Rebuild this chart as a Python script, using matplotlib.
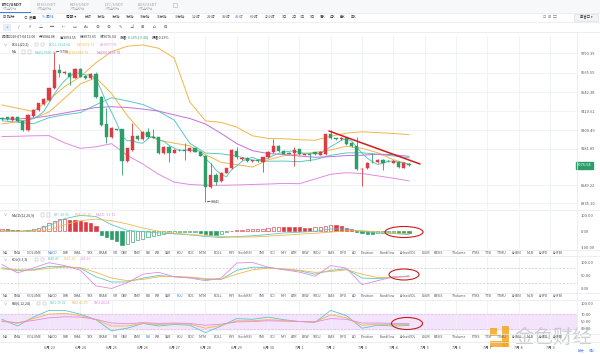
import matplotlib
matplotlib.use('Agg')
import matplotlib.pyplot as plt
from matplotlib.patches import Rectangle, Ellipse
import numpy as np

plt.rcParams['font.family'] = ['Noto Sans CJK SC', 'DejaVu Sans']

# ---------------- data (4h candles, 2020-06-21 12:00 .. 2020-07-04 12:00) ----------------
opens = [9376, 9383, 9366, 9383, 9359, 9302, 9391, 9429, 9465, 9493,
         9567, 9684, 9663, 9667, 9635, 9690, 9648, 9631, 9656, 9514,
         9340, 9255, 9306, 9306, 9107, 9175, 9264, 9245, 9289, 9260,
         9255, 9154, 9196, 9158, 9175, 9175, 9168, 9185, 9164, 9139,
         8941, 9016, 8977, 9030, 9058, 9171, 9117, 9126, 9105, 9107,
         9100, 9128, 9160, 9200, 9168, 9154, 9154, 9179, 9145, 9147,
         9160, 9143, 9147, 9274, 9249, 9243, 9249, 9221, 9202, 9052,
         9058, 9100, 9096, 9111, 9105, 9094, 9100, 9062, 9084.88]
highs = [9383, 9387, 9392, 9387, 9362, 9402, 9434, 9476, 9505, 9572,
         9798, 9722, 9675, 9672, 9694, 9695, 9652, 9664, 9673, 9518,
         9440, 9318, 9310, 9310, 9190, 9344, 9268, 9296, 9313, 9306,
         9260, 9200, 9200, 9180, 9180, 9217, 9190, 9190, 9168, 9143,
         9090, 9030, 9035, 9062, 9180, 9196, 9130, 9130, 9112, 9110,
         9132, 9165, 9245, 9205, 9172, 9160, 9196, 9182, 9152, 9150,
         9164, 9168, 9278, 9302, 9254, 9256, 9253, 9225, 9260, 9060,
         9098, 9153, 9115, 9115, 9110, 9109, 9104, 9098, 9093.55]
lows = [9366, 9366, 9362, 9355, 9296, 9296, 9387, 9425, 9460, 9488,
        9560, 9642, 9655, 9589, 9630, 9638, 9626, 9627, 9508, 9328,
        9217, 9250, 9300, 9016, 9100, 9170, 9240, 9240, 9252, 9248,
        9148, 9148, 9100, 9154, 9170, 9111, 9162, 9160, 9135, 8841,
        8935, 8952, 8970, 9025, 9054, 9120, 9112, 9100, 9100, 9100,
        9037, 9124, 9155, 9162, 9146, 9148, 9073, 9142, 9140, 9107,
        9143, 9140, 9143, 9245, 9236, 9240, 9208, 9196, 9045, 8948,
        9054, 9094, 9092, 9047, 9098, 9090, 9060, 9058, 9073.65]
closes = [9372, 9372, 9387, 9359, 9302, 9398, 9429, 9472, 9499, 9567,
          9684, 9663, 9669, 9637, 9688, 9642, 9631, 9659, 9514, 9334,
          9255, 9313, 9304, 9107, 9185, 9264, 9245, 9291, 9257, 9253,
          9154, 9196, 9158, 9175, 9173, 9168, 9185, 9164, 9139, 8941,
          9016, 8973, 9030, 9058, 9175, 9128, 9126, 9105, 9107, 9105,
          9128, 9160, 9200, 9168, 9151, 9152, 9175, 9147, 9147, 9145,
          9147, 9164, 9274, 9249, 9243, 9249, 9213, 9202, 9052, 9054,
          9094, 9098, 9111, 9094, 9103, 9105, 9064, 9094, 9076.54]

# line values read every 3 candles
s_idx = [0, 3, 6, 9, 12, 15, 18, 21, 24, 27, 30, 33, 36, 39, 42, 45, 48, 51, 54, 57,
         60, 63, 66, 69, 72, 75, 78]
boll_ub = [9461, 9440, 9420, 9493, 9578, 9640, 9730, 9800, 9835, 9843, 9822, 9760, 9480,
           9360, 9350, 9320, 9265, 9248, 9246, 9240, 9236, 9262, 9282, 9290, 9285, 9280, 9272]
boll_lb = [9260, 9262, 9265, 9266, 9220, 9185, 9195, 9215, 9140, 9085, 9020, 8970, 8955,
           8950, 8950, 8952, 8955, 8958, 8962, 8960, 8990, 9020, 9030, 9025, 9010, 8995, 8978]
boll_mid = [9360, 9351, 9342, 9380, 9399, 9412, 9462, 9507, 9487, 9464, 9421, 9365, 9217,
            9155, 9150, 9136, 9110, 9103, 9104, 9100, 9113, 9141, 9156, 9157, 9147, 9137, 9125]
ma10 = [9340, 9355, 9375, 9416, 9504, 9595, 9635, 9534, 9394, 9281, 9237, 9218, 9201,
        9145, 9096, 9081, 9066, 9112, 9138, 9149, 9159, 9175, 9198, 9185, 9157, 9113, 9084]
ma30 = [9372, 9372, 9378, 9392, 9410, 9428, 9445, 9450, 9445, 9435, 9422, 9398, 9375,
        9340, 9280, 9215, 9170, 9152, 9146, 9136, 9128, 9132, 9139, 9141, 9148, 9145, 9134]
ma5 = [9375, 9372, 9370, 9365, 9358, 9364, 9375, 9392, 9420, 9473,
       9530, 9577, 9616, 9644, 9668, 9660, 9653, 9651, 9627, 9556,
       9479, 9415, 9344, 9263, 9233, 9235, 9221, 9218, 9248, 9262,
       9240, 9230, 9204, 9187, 9171, 9174, 9172, 9173, 9166, 9119,
       9089, 9047, 9020, 9004, 9050, 9073, 9103, 9118, 9128, 9114,
       9114, 9121, 9140, 9152, 9161, 9166, 9169, 9159, 9154, 9153,
       9152, 9150, 9175, 9196, 9215, 9236, 9246, 9231, 9192, 9154,
       9123, 9100, 9082, 9090, 9102, 9104, 9096, 9095, 9081]

macd_hist = [14, 12, 10, 6, 3, 6, 12, 20, 32, 48,
             66, 75, 76, 72, 70, 64, 58, 52, 32, -20,
             -35, -50, -62, -87, -78, -66, -55, -45, -36, -28,
             -20, -14, -10, -8, -6, -5, -4, -3, -8, -14,
             -20, -22, -14, -5, 4, 8, 10, 12, 14, 15,
             16, 20, 25, 28, 27, 26, 25, 24, 22, 21,
             24, 28, 34, 38, 36, 30, 22, 14, -4, -10,
             -14, -16, -12, -9, -7, -5, -8, -10, -11.72]
macd_dif = [7, 1, 6, 34, 78, 97, 91, 40, 6, -2.5, -10, -16, -22, -32, -39, -32, -28, -20,
            -10.5, -6, 0, 14, 14, -1, -10, -13.5, -20.96]
macd_dea = [0, -2, 0, 10, 40, 65, 75, 65, 45, 20, 0, -12, -20, -25, -32, -36, -35, -30,
            -24, -18, -12, -5, 3, 4, -4, -11, -15.10]

kdj_k = [80, 68, 72, 85, 85, 78, 45, 25, 25, 40, 50, 45, 42, 35, 35, 70, 82, 80, 74, 68,
         55, 70, 75, 40, 38, 42, 48.47]
kdj_d = [75, 72, 70, 78, 82, 80, 62, 40, 30, 35, 45, 46, 44, 38, 36, 55, 72, 78, 75, 70,
         62, 65, 72, 55, 42, 43, 47.13]
kdj_j = [92, 60, 79, 99, 88, 70, 10, 0, 22, 55, 62, 45, 40, 30, 40, 98, 100, 82, 72, 63,
         47, 88, 78, 15, 30, 45, 45.16]

rsi1 = [56, 38, 62, 80, 80, 70, 55, 25, 32, 45, 38, 42, 40, 20, 38, 58, 56, 62, 55, 50,
        48, 80, 66, 32, 40, 38, 39.32]
rsi2 = [52, 45, 58, 70, 72, 66, 55, 38, 38, 45, 42, 44, 43, 32, 40, 52, 52, 55, 53, 50,
        49, 68, 60, 40, 43, 42, 41.79]
rsi3 = [50, 47, 53, 60, 63, 62, 56, 46, 44, 47, 45, 46, 45, 40, 43, 49, 50, 52, 51, 50,
        49, 58, 56, 46, 46, 45, 44.14]

price_ticks = [9790.39, 9665.55, 9542.38, 9420.62, 9300.49, 9181.89, 8949.22, 8835.10]
last_price = 9076.54
day_labels = ['6月 23', '6月 24', '6月 25', '6月 26', '6月 27', '6月 28', '6月 29', '6月 30',
              '7月 1', '7月 2', '7月 3', '7月 4', '7月 5', '7月 6', '7月 7', '7月 8', '7月 9']
indicators = ['MA', 'EMA', 'VOLUME', 'MACD', 'DMI', 'DMA', 'TRX', 'BRAR', 'VR', 'OBV', 'EMV',
              'RSI', 'WR', 'SAR', 'KDJ', 'ROC', 'MTM', 'BOLL', 'PSY', 'StochRSI', 'SMI', 'CCI',
              'MFI', 'ATR', 'BBW', 'SKDJ', 'BIAS', 'DPO', 'AO', 'Position', 'Fundflow',
              'AHeatVOL', 'LSUR', 'BASIS', 'TVolume', 'FTBS', 'TTSI', 'TTMU', 'AHBSI', 'MLR',
              'AHPD', 'AHFBI']
periods = ['分时', '1分钟', '3分钟', '5分钟', '10分钟', '15分钟', '30分钟', '1小时', '2小时', '3小时',
           '4小时', '6小时', '12小时', '1日', '2日', '3日', '5日', '周K', '月K', '季K', '年K']
pairs = ['BTC/USDT', 'ETH/USDT', 'BCH/USDT', 'LTC/USDT', 'EOS/USDT']

# ---------------- styling ----------------
W, H = 600, 355
RED = '#de3b45'
GREEN = '#2e9d6a'
TEAL = '#5cc7c2'
ORANGE = '#f3b548'
PINK = '#e08be0'
PURPLE = '#c46fdc'
GRID = '#eef1f4'
TXT = '#555a60'
BLUE = '#3d7be0'
FS = 2.9
SM = 2.5

fig = plt.figure(figsize=(W / 100, H / 100), dpi=100)
fig.patch.set_facecolor('white')


def add_ax(x0, y0, x1, y1):
    a = fig.add_axes([x0 / W, 1 - y1 / H, (x1 - x0) / W, (y1 - y0) / H])
    for s in a.spines.values():
        s.set_visible(False)
    a.set_xticks([])
    a.set_yticks([])
    a.set_facecolor('none')
    return a


def right_labels(a, ticks, labels):
    r = a.twinx()
    r.set_ylim(a.get_ylim())
    for s in r.spines.values():
        s.set_visible(False)
    r.set_yticks(ticks)
    r.set_yticklabels(labels, fontsize=FS, color=TXT)
    r.tick_params(axis='y', length=0, pad=2.5)
    r.set_xticks([])
    return r


n = len(closes)
xi = np.arange(n)
XL = (-0.383, 110.2)
day_idx = list(range(3, 110, 6))

# ---------------- main price panel ----------------
ax = add_ax(0, 36, 577, 209)
ax.set_xlim(*XL)
ax.set_ylim(8799, 9900)
for d in day_idx:
    ax.axvline(d, color=GRID, lw=0.6, zorder=0)
for p in price_ticks:
    ax.axhline(p, color=GRID, lw=0.6, zorder=0)

for i in range(n):
    o, h, l, c = opens[i], highs[i], lows[i], closes[i]
    col = RED if c >= o else GREEN
    ax.vlines(i, l, h, color=col, lw=0.6, zorder=3)
    ax.bar(i, max(abs(c - o), 3), bottom=min(o, c), width=0.62, color=col,
           edgecolor=col, lw=0.3, zorder=4)

ax.plot(s_idx, boll_ub, color=ORANGE, lw=0.7, zorder=2)
ax.plot(s_idx, boll_lb, color=PINK, lw=0.7, zorder=2)
ax.plot(s_idx, boll_mid, color=TEAL, lw=0.7, zorder=2)
ax.plot(s_idx, ma10, color=ORANGE, lw=0.7, zorder=2)
ax.plot(s_idx, ma30, color=PURPLE, lw=0.7, zorder=2)
ax.plot(xi, ma5, color=TEAL, lw=0.7, zorder=2)

imax = int(np.argmax(highs))
imin = int(np.argmin(lows))
ax.annotate('← %d' % highs[imax], (imax, highs[imax]), xytext=(1.0, 0), textcoords='offset points',
            fontsize=SM, color='#333', va='center', ha='left')
ax.annotate('← %d' % lows[imin], (imin, lows[imin]), xytext=(1.0, 0), textcoords='offset points',
            fontsize=SM, color='#333', va='center', ha='left')

axr = right_labels(ax, price_ticks, ['%.2f' % p for p in price_ticks])
axr.text(1.0, last_price, '%.2f' % last_price, transform=axr.get_yaxis_transform(),
         fontsize=FS, color='white', va='center', ha='left',
         bbox=dict(boxstyle='square,pad=0.3', fc=GREEN, ec=GREEN))

# ---------------- MACD ----------------
am = add_ax(0, 211, 577, 249)
am.set_xlim(*XL)
am.set_ylim(-109, 124.6)
for d in day_idx:
    am.axvline(d, color=GRID, lw=0.6, zorder=0)
for i in range(n):
    v = macd_hist[i]
    prev = macd_hist[i - 1] if i > 0 else v
    col = RED if v >= 0 else GREEN
    hollow = (v >= prev)
    am.bar(i, v, width=0.62, bottom=0, facecolor='white' if hollow else col,
           edgecolor=col, lw=0.45, zorder=3)
am.plot(s_idx, macd_dif, color=TEAL, lw=0.6, zorder=4)
am.plot(s_idx, macd_dea, color=ORANGE, lw=0.6, zorder=4)
right_labels(am, [100, 0, -100], ['100.00', '0.00', '-100.00'])

# ---------------- KDJ ----------------
ak = add_ax(0, 257, 577, 292)
ak.set_xlim(*XL)
ak.set_ylim(-13.5, 121)
for d in day_idx:
    ak.axvline(d, color=GRID, lw=0.6, zorder=0)
for lv in (80, 20):
    ak.axhline(lv, color='#c8c8c8', lw=0.5, ls=(0, (3, 2)), zorder=1)
ak.plot(s_idx, kdj_k, color=TEAL, lw=0.6, zorder=3)
ak.plot(s_idx, kdj_d, color=ORANGE, lw=0.6, zorder=3)
ak.plot(s_idx, kdj_j, color=PINK, lw=0.6, zorder=3)
right_labels(ak, [100, 50, 0], ['100.00', '50.00', '0.00'])

# ---------------- RSI ----------------
ar = add_ax(0, 300, 577, 333)
ar.set_xlim(*XL)
ar.set_ylim(19.1, 108.1)
ar.axhspan(30, 70, color='#f4e4fb', zorder=0)
for lv in (70, 30):
    ar.axhline(lv, color='#d8b8e6', lw=0.5, ls=(0, (3, 2)), zorder=1)
for d in day_idx:
    ar.axvline(d, color=GRID, lw=0.6, zorder=0.5)
ar.plot(s_idx, rsi1, color=TEAL, lw=0.6, zorder=3)
ar.plot(s_idx, rsi2, color=ORANGE, lw=0.6, zorder=3)
ar.plot(s_idx, rsi3, color=PINK, lw=0.6, zorder=3)
right_labels(ar, [100, 70, 50, 30], ['100.00', '70.00', '50.00', '30.00'])

# ---------------- overlay (texts, separators, annotations) ----------------
ov = fig.add_axes([0, 0, 1, 1], zorder=10)
ov.set_xlim(0, W)
ov.set_ylim(H, 0)
ov.axis('off')
ov.patch.set_alpha(0)


def T(x, y, s, fs=FS, c=TXT, **kw):
    ov.text(x, y, s, fontsize=fs, color=c, va='center', **kw)


def boxes(x, y):
    for dx in (0, 6):
        ov.add_patch(Rectangle((x + dx, y - 1.7), 3.4, 3.4, fc='none', ec='#b5b8bc', lw=0.35))


# watermark (drawn first, under everything else in the overlay)
ov.add_patch(Rectangle((490, 328), 7, 8, fc='#f5a623', ec='none', alpha=0.85, zorder=0))
ov.add_patch(Rectangle((502, 326), 6.5, 21, fc='#f5a623', ec='none', alpha=0.85, zorder=0))
ov.add_patch(Rectangle((490, 341), 18, 6, fc='#f5a623', ec='none', alpha=0.85, zorder=0))
ov.text(553, 337.5, '金色财经', fontsize=14, color='#b9bcc0', alpha=0.7, ha='center', va='center',
        zorder=0)

# separators
for y in (12.5, 22, 32, 210, 249.5, 256, 292.5, 299.5, 333.5, 341.5):
    ov.plot([0, W], [y, y], color='#e6e8eb', lw=0.5)
ov.plot([577, 577], [32, 342], color='#e6e8eb', lw=0.5)

# tab bar
ov.add_patch(Rectangle((30, 0), 570, 12.5, fc='#f7f8fa', ec='none'))
ov.plot([0, 30], [12, 12], color=BLUE, lw=0.7)
for k, (s, x) in enumerate(zip(pairs, [2, 37, 70, 105, 138])):
    T(x, 4.3, s, fs=2.9, c='#222' if k == 0 else '#9aa0a6', fontweight='bold' if k == 0 else 'normal')
    T(x, 8.8, '火币全球站', fs=2.2, c='#a8adb3')
ov.add_patch(Rectangle((173, 2.5), 4, 4, fc='none', ec='#b0b4b9', lw=0.4))

# toolbar row
T(3, 17, '⊟ 指标', fs=2.7, c='#333')
T(24, 17, '⊙ 设置', fs=2.7, c='#333')
T(42, 17, '✎ 画线', fs=2.7, c=BLUE)
T(66, 17, '周期 ▾', fs=2.7, c='#333')
px_ = [88.5, 101, 116, 130, 145, 162, 180, 196, 211, 226, 239, 254, 270, 284.5, 294.5,
       303, 312.5, 322.5, 332.5, 342.5, 353.5]
for s, x in zip(periods, px_):
    T(x, 17, s, fs=2.4, c=BLUE if s == '4小时' else '#444', ha='center')
T(543, 17, '⊡  ⊞  ▢', fs=2.8, c='#888')
ov.add_patch(Rectangle((574, 13.5), 24, 7, fc='#f2f3f5', ec='#d8dadd', lw=0.4))
T(586, 17, '单窗口 ▾', fs=2.4, c='#333', ha='center')

# drawing tools row
ov.add_patch(Rectangle((3, 23.5), 8, 7, fc='#e3edfb', ec='none'))
tools = ['+', '/', '∥', '△', '═', '⊢', '▭', 'Aa', '⊘', '⊘', '✎', '⊿', '⊞', '⌂', '⊟']
for k, s in enumerate(tools):
    T(7 + k * 11.3, 27, s, fs=3.0, c=BLUE if k == 0 else '#555', ha='center')

# info row
IF = 2.45
T(2, 37.5, '时间2020-07-04 12:00', fs=IF, c='#333')
T(39, 37.5, '开:9084.88', fs=IF, c='#333')
T(60, 37.5, '高:9093.55', fs=IF, c='#333')
T(80, 37.5, '低:9073.65', fs=IF, c='#333')
T(100, 37.5, '收:9076.54', fs=IF, c='#333')
T(120, 37.5, '涨幅:', fs=IF, c='#333')
T(128, 37.5, '-0.10%(-9.34)', fs=IF, c=GREEN)
T(152, 37.5, '振幅:0.23%', fs=IF, c='#333')

# legends
LF = 2.45
T(4, 44.5, '∨', fs=LF, c='#666')
T(12, 44.5, 'BOLL(20,2)', fs=LF, c='#333')
boxes(35, 44.5)
T(49, 44.5, 'BOLL:9124.84', fs=LF, c=TEAL)
T(77, 44.5, 'UB:9271.73', fs=LF, c=ORANGE)
T(100, 44.5, 'LB:8977.95', fs=LF, c=PINK)
T(12, 52, 'MA', fs=LF, c='#333')
boxes(22, 52)
T(35, 52, 'MA(5):9080.69', fs=LF, c=TEAL)
T(65, 52, 'MA(10):9083.76', fs=LF, c=ORANGE)
T(97, 52, 'MA(30):9133.78', fs=LF, c=PURPLE)

T(4, 215, '∨', fs=LF, c='#666')
T(12, 215, 'MACD(12,26,9)', fs=LF, c='#333')
boxes(41, 215)
T(54, 215, 'DIF:-20.96', fs=LF, c=TEAL)
T(75, 215, 'DEA:-15.10', fs=LF, c=ORANGE)
T(96, 215, 'MACD:-11.72', fs=LF, c=PINK)

T(4, 259.5, '∨', fs=LF, c='#666')
T(12, 259.5, 'KDJ(9,3,3)', fs=LF, c='#333')
boxes(35, 259.5)
T(48, 259.5, 'K:48.47', fs=LF, c=TEAL)
T(64, 259.5, 'D:47.13', fs=LF, c=ORANGE)
T(80, 259.5, 'J:45.16', fs=LF, c=PINK)

T(4, 303.5, '∨', fs=LF, c='#666')
T(12, 303.5, 'RSI(6,12,24)', fs=LF, c='#333')
boxes(37, 303.5)
T(50, 303.5, 'RSI1:39.32', fs=LF, c=TEAL)
T(72, 303.5, 'RSI2:41.79', fs=LF, c=ORANGE)
T(94, 303.5, 'RSI3:44.14', fs=LF, c=PINK)

# indicator tab rows
ind_x = [5.5, 17.5, 34, 52, 65.5, 77.5, 90, 103, 115, 124.5, 137, 148.5, 157.5, 168.5, 180,
         191.5, 203, 217.5, 231.5, 245.5, 261.5, 273, 283.5, 294, 305.5, 317.5, 331, 343,
         354, 367.5, 387, 408.5, 425.5, 438, 459, 476, 489, 502, 517, 530, 543.5, 558]
for yrow, hl in ((253, 'MACD'), (296.3, 'KDJ'), (337.5, 'RSI')):
    for s, x in zip(indicators, ind_x):
        T(x, yrow, s, fs=SM, c=BLUE if s == hl else '#555', ha='center')

# date labels
for k, s in enumerate(day_labels):
    x = 2.0 + 5.2177 * (9 + 6 * k)
    T(x, 347.5, s, fs=2.7, c='#555', ha='center')
T(581, 350.5, '放大', fs=2.4, c=BLUE, ha='center')
T(592, 350.5, '缩小', fs=2.4, c=BLUE, ha='center')

# red annotations
ov.plot([329, 420], [131, 164], color='#d01c1c', lw=1.1, solid_capstyle='round')
for (cx, cy, w, h) in ((404, 232, 38, 11), (404, 274.5, 30, 11), (407, 323.5, 31, 12)):
    ov.add_patch(Ellipse((cx, cy), w, h, fc='none', ec='#c81e1e', lw=0.8))

fig.savefig('out.png', dpi=100, facecolor='white')
